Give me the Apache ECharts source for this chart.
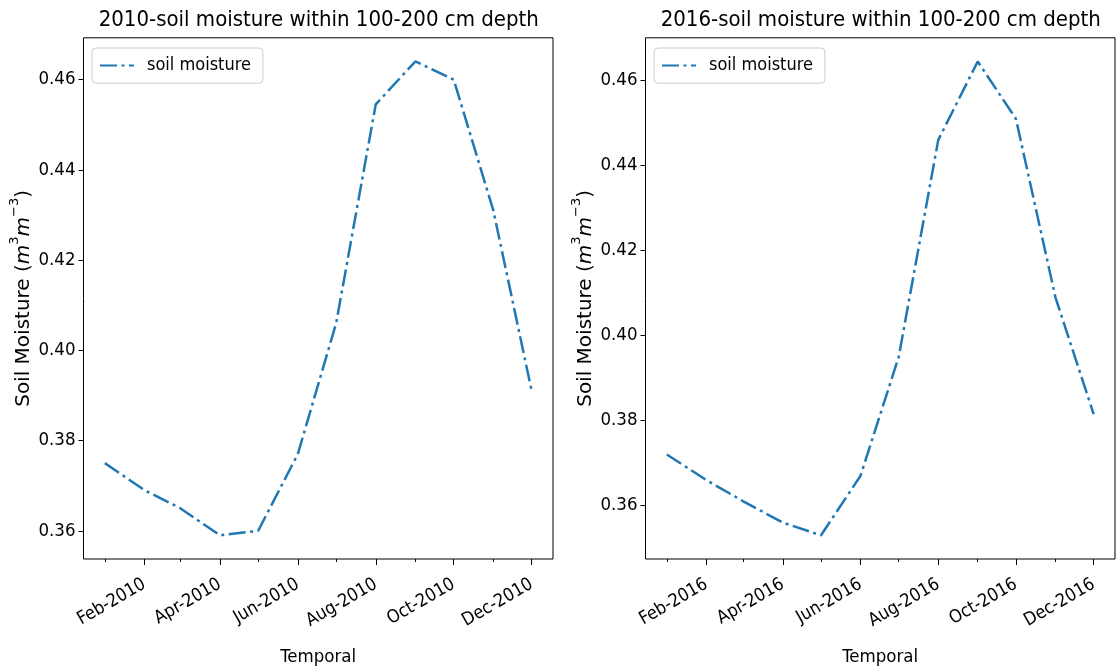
<!DOCTYPE html>
<html>
<head>
    <meta charset="utf-8">
    <title>soil moisture within 100-200 cm depth</title>
    <script src="https://cdn.jsdelivr.net/npm/echarts@6/dist/echarts.min.js"></script>
    <style>
        html, body { margin: 0; padding: 0; background: #fff; }
        #chart1 { width: 1117px; height: 672px; }
    </style>
</head>
<body>
<div id="chart1"></div>
<script type="text/javascript">
    // monthly values
    var dates2010 = ['2010-01-01', '2010-02-01', '2010-03-01', '2010-04-01', '2010-05-01', '2010-06-01',
                     '2010-07-01', '2010-08-01', '2010-09-01', '2010-10-01', '2010-11-01', '2010-12-01'];
    var moisture2010 = [0.375, 0.369, 0.365, 0.359, 0.360, 0.377, 0.406, 0.4545, 0.464, 0.460, 0.431, 0.391];

    var dates2016 = ['2016-01-01', '2016-02-01', '2016-03-01', '2016-04-01', '2016-05-01', '2016-06-01',
                     '2016-07-01', '2016-08-01', '2016-09-01', '2016-10-01', '2016-11-01', '2016-12-01'];
    var moisture2016 = [0.372, 0.366, 0.361, 0.356, 0.353, 0.367, 0.395, 0.446, 0.4645, 0.451, 0.409, 0.3815];

    // tick marks
    var majorTicks2010 = ['2010-02-01', '2010-04-01', '2010-06-01', '2010-08-01', '2010-10-01', '2010-12-01'];
    var minorTicks2010 = ['2010-01-01', '2010-03-01', '2010-05-01', '2010-07-01', '2010-09-01', '2010-11-01'];
    var majorTicks2016 = ['2016-02-01', '2016-04-01', '2016-06-01', '2016-08-01', '2016-10-01', '2016-12-01'];
    var minorTicks2016 = ['2016-01-01', '2016-03-01', '2016-05-01', '2016-07-01', '2016-09-01', '2016-11-01'];
    var yTicks2010 = [0.36, 0.38, 0.40, 0.42, 0.44, 0.46];
    var yTicks2016 = [0.36, 0.38, 0.40, 0.42, 0.44, 0.46];
    var monthNames = ['Jan', 'Feb', 'Mar', 'Apr', 'May', 'Jun', 'Jul', 'Aug', 'Sep', 'Oct', 'Nov', 'Dec'];

    var FONT = "'DejaVu Sans Condensed', 'Liberation Sans Narrow', 'DejaVu Sans', sans-serif";
    var BLUE = '#1f77b4';

    function ts(s) {
        var p = s.split('-');
        return Date.UTC(+p[0], +p[1] - 1, +p[2]);
    }

    function monthLabel(v) {
        var d = new Date(v);
        return monthNames[d.getUTCMonth()] + '-' + d.getUTCFullYear();
    }

    var option = {
        animation: false,
        backgroundColor: '#fff',
        title: [],
        legend: [],
        grid: [],
        xAxis: [],
        yAxis: [],
        series: []
    };

    function addPanel(i, left, dates, values, major, minor, yTicks, titleText) {
        var xs = dates.map(ts);
        var xPad = (xs[xs.length - 1] - xs[0]) * 0.05;
        var yMin = Math.min.apply(null, values), yMax = Math.max.apply(null, values);
        var yPad = (yMax - yMin) * 0.05;
        var width = 469.5;

        option.grid.push({
            left: left, top: 37.8, width: width, height: 521.4,
            show: true, borderColor: '#000', borderWidth: 1, backgroundColor: 'transparent'
        });
        option.title.push({
            text: titleText,
            left: left + width / 2 - 4.5, top: 4, textAlign: 'center',
            textStyle: { fontFamily: FONT, fontSize: 22, fontWeight: 'normal', color: '#000' }
        });
        option.legend.push({
            left: left + 8.5, top: 48,
            data: ['soil moisture'],
            itemWidth: 34, itemHeight: 24,
            padding: [8, 12, 8, 7],
            backgroundColor: 'rgba(255,255,255,0.8)',
            borderColor: '#cccccc', borderWidth: 1, borderRadius: 4,
            itemStyle: { opacity: 0 },
            textStyle: { fontFamily: FONT, fontSize: 18, color: '#000', padding: [0, 0, 0, 8] }
        });
        // major ticks + labels
        option.xAxis.push({
            type: 'value', gridIndex: i, position: 'bottom',
            min: xs[0] - xPad, max: xs[xs.length - 1] + xPad,
            axisLine: { show: false },
            splitLine: { show: false },
            axisTick: { customValues: major.map(ts), length: 6, lineStyle: { color: '#000', width: 1 } },
            axisLabel: {
                customValues: major.map(ts), rotate: 30, margin: 24,
                formatter: monthLabel,
                fontFamily: FONT, fontSize: 18, color: '#000'
            },
            name: 'Temporal', nameLocation: 'middle', nameGap: 89,
            nameTextStyle: { fontFamily: FONT, fontSize: 18.5, color: '#000' }
        });
        // minor ticks
        option.xAxis.push({
            type: 'value', gridIndex: i, position: 'bottom',
            min: xs[0] - xPad, max: xs[xs.length - 1] + xPad,
            axisLine: { show: false },
            splitLine: { show: false },
            axisTick: { customValues: minor.map(ts), length: 3, lineStyle: { color: '#000', width: 1 } },
            axisLabel: { show: false }
        });
        option.yAxis.push({
            type: 'value', gridIndex: i,
            min: yMin - yPad, max: yMax + yPad,
            axisLine: { show: false },
            splitLine: { show: false },
            axisTick: { customValues: yTicks, length: 5, lineStyle: { color: '#000', width: 1 } },
            axisLabel: {
                customValues: yTicks, margin: 8,
                formatter: function (v) { return v.toFixed(2); },
                fontFamily: FONT, fontSize: 18.5, color: '#000'
            },
            name: '{n|Soil Moisture (}{i|m}{s|3}{i|m}{s|\u22123}{n|)}',
            nameLocation: 'middle', nameGap: 50,
            nameTextStyle: {
                fontFamily: 'DejaVu Sans', color: '#000',
                rich: {
                    n: { fontFamily: 'DejaVu Sans', fontSize: 20, lineHeight: 25, verticalAlign: 'bottom', color: '#000' },
                    i: { fontFamily: 'DejaVu Sans', fontStyle: 'italic', fontSize: 20, lineHeight: 25, verticalAlign: 'bottom', color: '#000' },
                    s: { fontFamily: 'DejaVu Sans', fontSize: 13, lineHeight: 25, verticalAlign: 'top', color: '#000' }
                }
            }
        });
        option.series.push({
            name: 'soil moisture', type: 'line',
            xAxisIndex: 2 * i, yAxisIndex: i,
            data: xs.map(function (x, k) { return [x, values[k]]; }),
            symbol: 'none',
            lineStyle: { color: BLUE, width: 2.5, type: [17, 4.5, 3, 4.5] },
            itemStyle: { color: BLUE }
        });
    }

    addPanel(0, 83.5, dates2010, moisture2010, majorTicks2010, minorTicks2010, yTicks2010,
        '2010-soil moisture within 100-200 cm depth');
    addPanel(1, 645.5, dates2016, moisture2016, majorTicks2016, minorTicks2016, yTicks2016,
        '2016-soil moisture within 100-200 cm depth');

    var myChart1 = echarts.init(document.getElementById('chart1'));
    myChart1.setOption(option);
</script>
</body>
</html>
